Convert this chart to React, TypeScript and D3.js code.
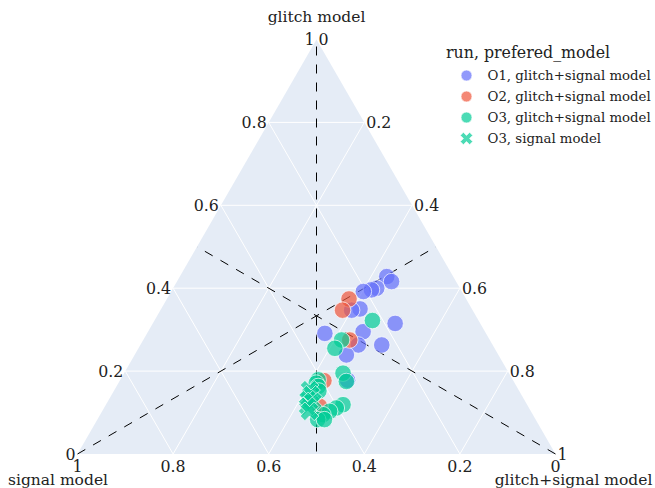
import React from "react";
import * as d3 from "d3";

// ternary values: [glitch model (a), signal model (b), glitch+signal model (c)]
const o1Glitch: number[][] = [
  [0.428, 0.139, 0.433],
  [0.416, 0.135, 0.449],
  [0.4, 0.174, 0.426],
  [0.396, 0.187, 0.417],
  [0.392, 0.206, 0.402],
  [0.35, 0.234, 0.416],
  [0.347, 0.253, 0.4],
  [0.315, 0.178, 0.507],
  [0.295, 0.255, 0.45],
  [0.291, 0.337, 0.372],
  [0.263, 0.281, 0.456],
  [0.263, 0.232, 0.505],
  [0.239, 0.318, 0.443],
  [0.178, 0.346, 0.476],
];
const o2Glitch: number[][] = [
  [0.374, 0.245, 0.381],
  [0.347, 0.272, 0.381],
  [0.275, 0.293, 0.432],
  [0.177, 0.396, 0.427],
  [0.115, 0.436, 0.449],
];
const o3Glitch: number[][] = [
  [0.322, 0.222, 0.456],
  [0.275, 0.31, 0.415],
  [0.255, 0.334, 0.411],
  [0.195, 0.347, 0.458],
  [0.175, 0.35, 0.475],
  [0.179, 0.407, 0.414],
  [0.171, 0.415, 0.414],
  [0.163, 0.415, 0.422],
  [0.152, 0.419, 0.429],
  [0.119, 0.385, 0.496],
  [0.111, 0.403, 0.486],
  [0.103, 0.421, 0.476],
  [0.095, 0.439, 0.466],
  [0.083, 0.456, 0.461],
  [0.083, 0.442, 0.475],
];
const o3Signal: number[][] = [
  [0.155, 0.437, 0.408],
  [0.143, 0.44, 0.417],
  [0.131, 0.452, 0.417],
  [0.127, 0.444, 0.429],
  [0.115, 0.461, 0.424],
  [0.103, 0.463, 0.434],
];

const seriesNames = [
  "O1, glitch+signal model",
  "O2, glitch+signal model",
  "O3, glitch+signal model",
  "O3, signal model",
];
const seriesColors = ["#636efa", "#EF553B", "#00cc96", "#00cc96"];
const seriesSymbols = ["circle", "circle", "circle", "x"];
const seriesData = [o1Glitch, o2Glitch, o3Glitch, o3Signal];

const tickValues = [0, 0.2, 0.4, 0.6, 0.8, 1];
const gridValues = [0.2, 0.4, 0.6, 0.8];
// reference lines: pairs of ternary points
const refLines: number[][][] = [
  [[1, 0, 0], [0, 0.5, 0.5]],
  [[0, 1, 0], [0.5, 0, 0.5]],
  [[0, 0, 1], [0.5, 0.5, 0]],
];

const W = 655;
const H = 488;
const left = 77.5;
const right = 555.5;
const baseY = 454;
const topY = 39.5;

const sx = d3.scaleLinear().domain([-1, 1]).range([left, right]);
const sy = d3.scaleLinear().domain([0, 1]).range([baseY, topY]);

function proj(p: number[]): [number, number] {
  const s = p[0] + p[1] + p[2];
  const a = p[0] / s, b = p[1] / s, c = p[2] / s;
  return [sx(c - b), sy(a)];
}

function xPath(r: number) {
  const rx = Math.round((r * 0.8) / Math.sqrt(2) * 100) / 100;
  const ne = `l${rx},${rx}`;
  const se = `l${rx},-${rx}`;
  const sw = `l-${rx},-${rx}`;
  const nw = `l-${rx},${rx}`;
  return `M0,${rx}${ne}${se}${sw}${se}${sw}${nw}${sw}${nw}${ne}${nw}${ne}Z`;
}

function Marker({ x, y, color, symbol, size }: any) {
  if (symbol === "x") {
    return (
      <path
        d={xPath(size / 2)}
        transform={`translate(${x},${y})`}
        fill={color}
        fillOpacity={0.7}
        stroke="#fff"
        strokeOpacity={0.7}
        strokeWidth={1}
      />
    );
  }
  return (
    <circle
      cx={x}
      cy={y}
      r={size / 2}
      fill={color}
      fillOpacity={0.7}
      stroke="#fff"
      strokeOpacity={0.7}
      strokeWidth={1}
    />
  );
}

const TXT = "#222";
const FS = 15.8;

export default function App() {
  const font = "'DejaVu Serif', serif";
  const tri = [proj([1, 0, 0]), proj([0, 1, 0]), proj([0, 0, 1])];
  const line = d3.line();
  const grid: [number, number][][] = [];
  gridValues.forEach((v) => {
    grid.push([proj([v, 1 - v, 0]), proj([v, 0, 1 - v])]);
    grid.push([proj([1 - v, v, 0]), proj([0, v, 1 - v])]);
    grid.push([proj([1 - v, 0, v]), proj([0, 1 - v, v])]);
  });
  const fmt = d3.format("~g");

  return (
    <svg
      width={W}
      height={H}
      style={{ position: "absolute", left: 0, top: 0, fontFamily: font }}
    >
      <rect width={W} height={H} fill="#fff" />
      <path d={line(tri as any) + "Z"} fill="#E5ECF6" />
      {grid.map((g, i) => (
        <path key={i} d={line(g) as string} stroke="#fff" strokeWidth={1} fill="none" />
      ))}
      {tickValues.map((v) => {
        const [x, y] = proj([v, 1 - v, 0]);
        return (
          <text key={"a" + v} x={x - 2} y={y} dy="0.36em" textAnchor="end" fontSize={FS} fill={TXT}>
            {fmt(v)}
          </text>
        );
      })}
      {tickValues.map((v) => {
        const [x, y] = proj([0, v, 1 - v]);
        return (
          <text key={"b" + v} x={x} y={y + 18} textAnchor="middle" fontSize={FS} fill={TXT}>
            {fmt(v)}
          </text>
        );
      })}
      {tickValues.map((v) => {
        const [x, y] = proj([1 - v, 0, v]);
        return (
          <text key={"c" + v} x={x + 2} y={y} dy="0.36em" textAnchor="start" fontSize={FS} fill={TXT}>
            {fmt(v)}
          </text>
        );
      })}
      <text x={316.5} y={22} textAnchor="middle" fontSize={15.5} fill={TXT}>
        glitch model
      </text>
      <text x={58} y={484.5} textAnchor="middle" fontSize={15.5} fill={TXT}>
        signal model
      </text>
      <text x={573.5} y={484.5} textAnchor="middle" fontSize={15.5} fill={TXT}>
        glitch+signal model
      </text>
      {refLines.map((l, i) => (
        <path
          key={"r" + i}
          d={line(l.map(proj)) as string}
          stroke="#000"
          strokeWidth={1}
          strokeDasharray="9,9"
          strokeDashoffset={i === 0 ? -7 : 0}
          fill="none"
        />
      ))}
      {seriesData.map((data, si) => (
        <g key={"s" + si}>
          {data.map((p, i) => {
            const [x, y] = proj(p);
            return (
              <Marker key={i} x={x} y={y} color={seriesColors[si]} symbol={seriesSymbols[si]} size={16.5} />
            );
          })}
        </g>
      ))}
      <text x={446} y={58} fontSize={15.8} fill={TXT}>
        run, prefered_model
      </text>
      {seriesNames.map((name, i) => {
        const y = 75.5 + i * 21;
        return (
          <g key={"l" + i}>
            <Marker x={466.5} y={y} color={seriesColors[i]} symbol={seriesSymbols[i]} size={11} />
            <text x={487.5} y={y} dy="0.36em" fontSize={13.3} fill={TXT}>
              {name}
            </text>
          </g>
        );
      })}
    </svg>
  );
}
